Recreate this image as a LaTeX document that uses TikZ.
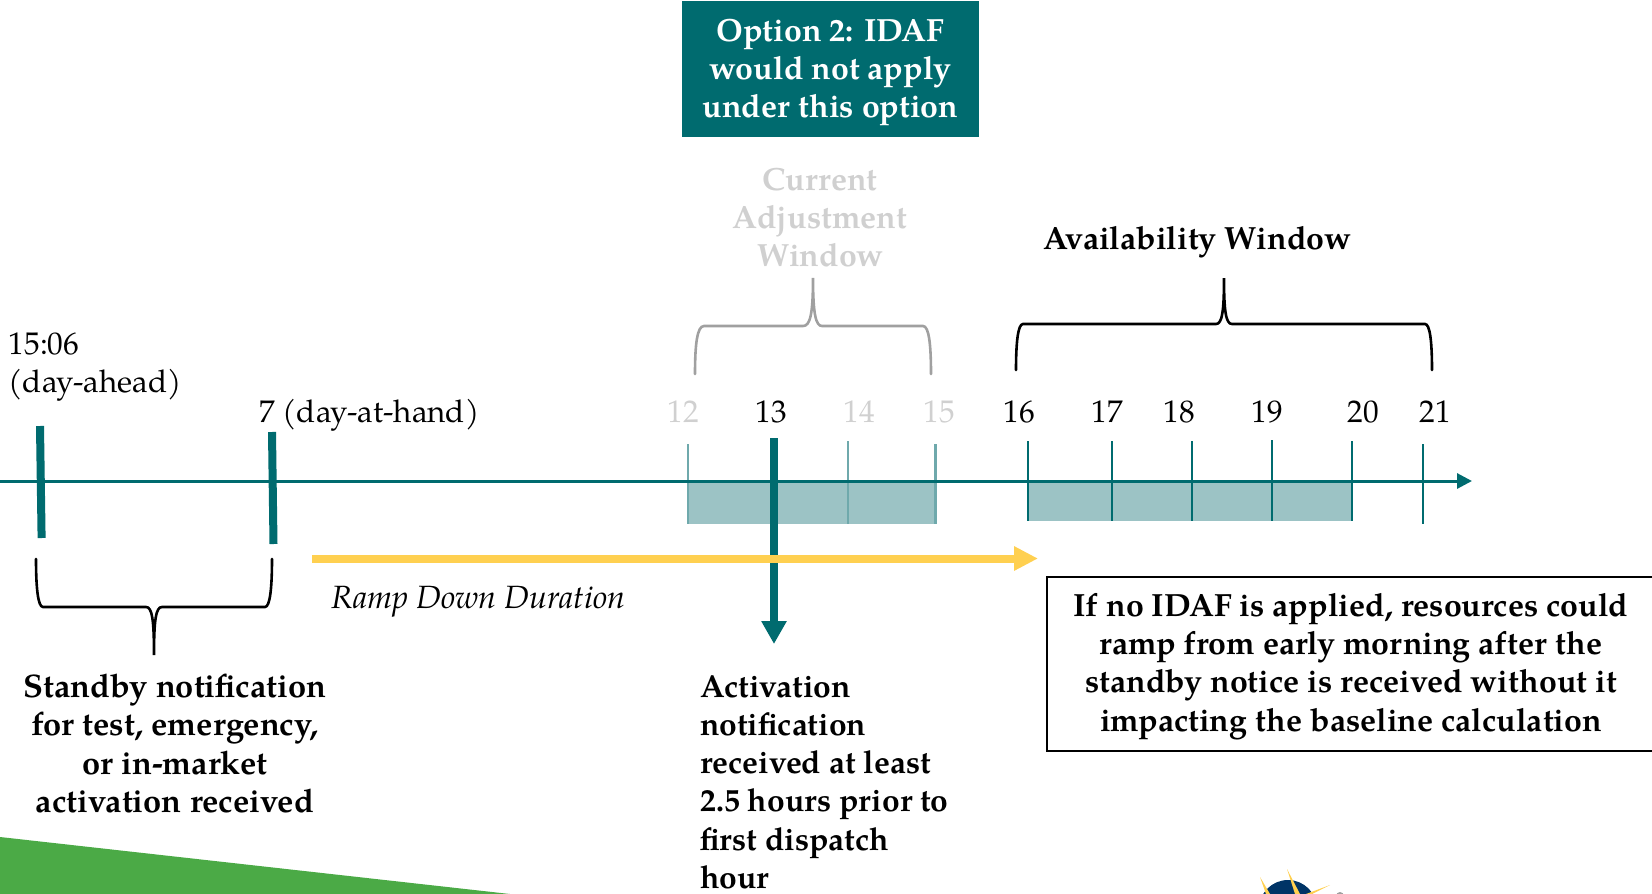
\documentclass[tikz,border=0pt]{standalone}
\usepackage{fontspec}
\setmainfont{TeX Gyre Pagella}
\usetikzlibrary{arrows.meta}
\definecolor{teal1}{HTML}{006B6F}
\definecolor{band}{HTML}{9CC3C5}
\definecolor{tealt}{HTML}{6FA9AC}
\definecolor{amber}{HTML}{FFD050}
\definecolor{greyb}{HTML}{A0A0A0}
\definecolor{greyt}{HTML}{D0D0D0}
\definecolor{leaf}{HTML}{4BAA46}
\definecolor{navy}{HTML}{003466}
\tikzset{
 txt/.style={inner sep=0pt,font=\fontsize{31.3}{38.3}\selectfont,text=black},
 btxt/.style={txt,font=\fontsize{32.1}{38.3}\selectfont\bfseries,align=center},
 num/.style={txt,anchor=base},
 tick/.style={teal1,line width=2.5pt},
 faint/.style={tealt,line width=2.5pt},
 brace/.style={line width=2.6pt,line cap=round}
}
\begin{document}
\begin{tikzpicture}[x=1pt,y=-1pt]
\useasboundingbox (0,0) rectangle (1652,894);
% decoration corners
\fill[leaf] (0,837) -- (510,894) -- (0,894) -- cycle;
\begin{scope}
\clip (1200,840) rectangle (1400,894);
\fill[navy] (1288,909) circle (29);
\fill[amber] (1260,877) -- (1270,894) -- (1266,894) -- cycle;
\fill[amber] (1287,869) -- (1300,894) -- (1295,894) -- cycle;
\fill[amber] (1330,885) -- (1312,894) -- (1306,894) -- cycle;
\fill[greyb] (1340,896) circle (4);
\end{scope}
% bands
\fill[band] (688,481) rectangle (935,524);
\fill[band] (1028,481) rectangle (1352,521);
% coordinates
\coordinate (axL) at (0,481);
\coordinate (axR) at (1472,481);
\foreach \n/\x/\t/\b in {t16/1028/441/521,t17/1112/441/521,t18/1192/441/521,t19/1272/440/521,t20/1352/441/521,t21/1423/444/524}{
  \coordinate (\n a) at (\x,\t); \coordinate (\n b) at (\x,\b);
  \draw[tick] (\n a) -- (\n b);
}
\foreach \n/\x/\t/\b in {t12/688/444/524,t14/848/441/524,t15/935.5/444/524}{
  \coordinate (\n a) at (\x,\t); \coordinate (\n b) at (\x,\b);
  \draw[faint] (\n a) -- (\n b);
}
\draw[teal1,line width=3pt,-{Triangle[length=15pt,width=15pt]}] (axL) -- (axR);
% heavy bars
\coordinate (b1a) at (40,426); \coordinate (b1b) at (41.6,538);
\coordinate (b2a) at (272,432); \coordinate (b2b) at (273.5,544);
\draw[teal1,line width=8pt] (b1a) -- (b1b);
\draw[teal1,line width=8pt] (b2a) -- (b2b);
% activation arrow
\coordinate (acA) at (774,438); \coordinate (acB) at (774,644);
\draw[teal1,line width=7.5pt,-{Triangle[length=23pt,width=24pt]}] (acA) -- (acB);
% ramp arrow
\coordinate (rdA) at (312,558.5); \coordinate (rdB) at (1038,558.5);
\draw[amber,line width=8pt,-{Triangle[length=24pt,width=23pt]}] (rdA) -- (rdB);
% braces
\draw[greyb,brace] (695,374) .. controls (695,345) and (697,326) .. (704,326) -- (803,326)
  .. controls (810,326) and (813,315) .. (813,278)
  .. controls (813,315) and (816,326) .. (822,326) -- (923,326)
  .. controls (929,326) and (931,345) .. (931,374);
\draw[black,brace] (1016,370) .. controls (1016,342) and (1018,324) .. (1023,324) -- (1216,324)
  .. controls (1222,324) and (1224,312) .. (1224,278)
  .. controls (1224,312) and (1226,324) .. (1232,324) -- (1425,324)
  .. controls (1430,324) and (1432,342) .. (1432,370);
\draw[black,brace] (36,559) .. controls (36,588) and (38,607) .. (43,607) -- (146,607)
  .. controls (152,607) and (154,619) .. (154,655)
  .. controls (154,619) and (156,607) .. (162,607) -- (265,607)
  .. controls (270,607) and (272,588) .. (272,559);
% option box
\node[fill=teal1,minimum width=297pt,minimum height=136pt,inner sep=0pt] (opt) at (830.5,69) {};
\node[btxt,text=white] (optt) at (830.5,72.5)
  {Option 2: IDAF\\would not apply\\under this option};
% labels
\node[btxt,text=greyt] (caw) at (820,217.5) {Current\\Adjustment\\Window};
\node[btxt] (aw) at (1197,242) {Availability Window};
\node[txt,align=left,anchor=west] (t1506) at (8.5,367) {15:06\\(day-ahead)};
\node[txt,anchor=base west] (t7) at (259,422) {7 (day-at-hand)};
\foreach \n/\x/\c in {12/683/greyt,14/859/greyt,15/939/greyt,13/771/black,16/1019/black,17/1107/black,18/1179/black,19/1267/black,20/1363/black,21/1435/black}{
  \node[num,text=\c] (n\n) at (\x,422) {\n};
}
\node[txt,anchor=base west,font=\fontsize{32.2}{38.3}\selectfont\itshape] (rd) at (331,608) {Ramp Down Duration};
\node[btxt,font=\fontsize{32.6}{38.3}\selectfont\bfseries] (sb) at (175,743.5) {Standby notification\\for test, emergency,\\or in-market\\activation received};
\node[btxt,align=left,anchor=north west,font=\fontsize{31.8}{38.3}\selectfont\bfseries] (an) at (700,675) {Activation\\notification\\received at least\\2.5 hours prior to\\first dispatch\\hour};
\node[draw=black,line width=2pt,inner sep=0pt,minimum height=174pt,minimum width=611pt,anchor=north west] (nb) at (1046,576) {};
\node[btxt] (nbt) at (1351,666.5)
 {If no IDAF is applied, resources could\\ramp from early morning after the\\standby notice is received without it\\impacting the baseline calculation};
\end{tikzpicture}
\end{document}
